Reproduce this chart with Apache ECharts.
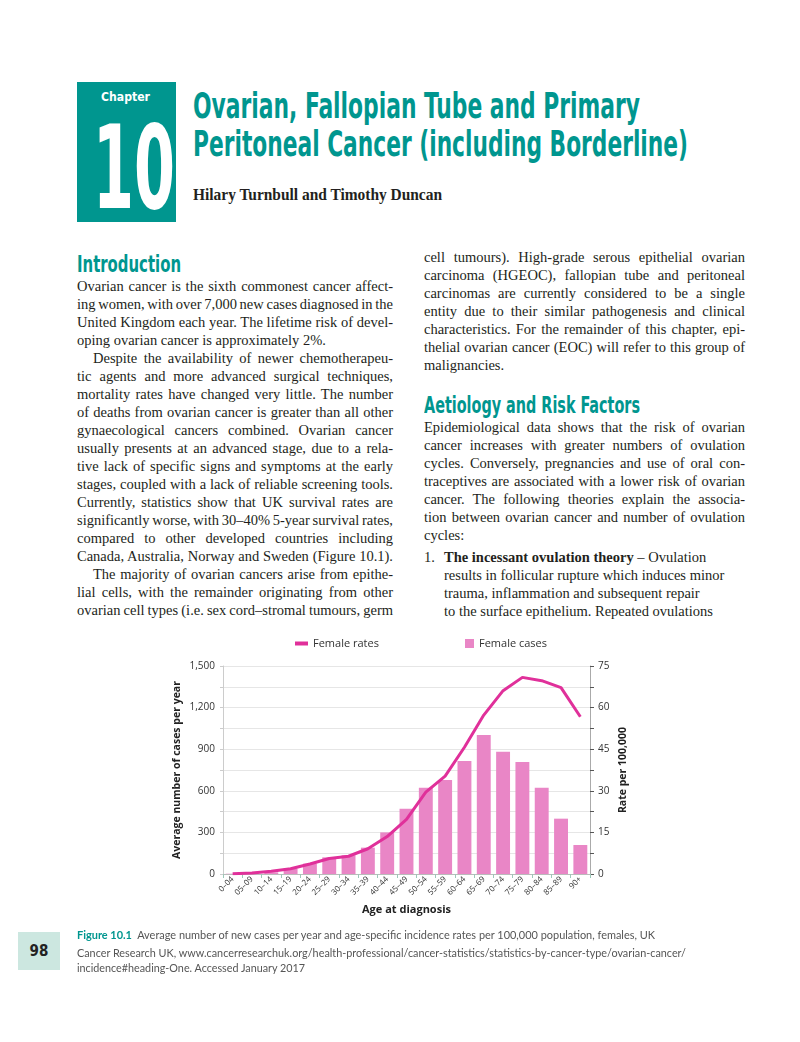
<!DOCTYPE html>
<html><head><meta charset="utf-8">
<script src="https://cdn.jsdelivr.net/npm/echarts@6.0.0/dist/echarts.min.js"></script>
<style>
html,body{margin:0;padding:0;background:#fff;}
body{width:800px;height:1042px;position:relative;overflow:hidden;}
.abs{position:absolute;white-space:nowrap;transform-origin:0 50%;}
.serif{font-family:"Liberation Serif","DejaVu Serif",serif;color:#231f20;font-size:14.5px;line-height:18px;}
.cond{font-family:"Liberation Sans Narrow","DejaVu Sans Condensed",sans-serif;font-weight:bold;}
.cap{font-family:Lato,"Open Sans",sans-serif;color:#555;font-size:11px;line-height:14px;}
</style></head><body>
<div style="position:absolute;left:77px;top:82px;width:99px;height:140px;background:#00968f"></div>
<div class="abs cond" data-w="49" style="left:101px;top:89px;font-size:12px;line-height:16px;color:#fff;">Chapter</div>
<div class="abs cond" data-w="82" style="left:93px;top:111px;font-size:115px;line-height:115px;color:#fff;">10</div>
<div class="abs cond" data-w="447" style="left:193px;top:86px;font-size:35px;line-height:40px;color:#00968f;">Ovarian, Fallopian Tube and Primary</div>
<div class="abs cond" data-w="495" style="left:193px;top:124px;font-size:35px;line-height:40px;color:#00968f;">Peritoneal Cancer (including Borderline)</div>
<div class="abs serif" data-w="249" style="left:193px;top:185px;font-size:16px;line-height:20px;font-weight:bold;">Hilary Turnbull and Timothy Duncan</div>
<div class="abs cond" data-w="104" style="left:77px;top:250px;font-size:23px;line-height:28px;color:#00968f;">Introduction</div>
<div class="abs cond" data-w="216" style="left:424px;top:391px;font-size:23px;line-height:28px;color:#00968f;">Aetiology and Risk Factors</div>
<div id="txt"></div>
<div id="chart" style="position:absolute;left:0;top:625px;width:800px;height:305px;"></div>
<div style="position:absolute;left:18px;top:932px;width:42px;height:38px;background:#cce7e0;"></div>
<div class="abs" style="left:18px;top:932px;width:42px;line-height:38px;text-align:center;font-family:'Liberation Sans Narrow','DejaVu Sans Condensed',sans-serif;font-weight:bold;font-size:15px;color:#222;">98</div>
<div class="abs cap" data-w="578" style="left:77px;top:928px;"><span style="color:#00968f;font-weight:bold;">Figure 10.1</span>&nbsp; Average number of new cases per year and age-specific incidence rates per 100,000 population, females, UK</div>
<div class="abs cap" data-w="609" style="left:77px;top:946px;">Cancer Research UK, www.cancerresearchuk.org/health-professional/cancer-statistics/statistics-by-cancer-type/ovarian-cancer/</div>
<div class="abs cap" data-w="228" style="left:77px;top:961px;">incidence#heading-One. Accessed January 2017</div>
<script>
// ---- chart data ----
var categories = ['0–04','05–09','10–14','15–19','20–24','25–29','30–34','35–39','40–44','45–49','50–54','55–59','60–64','65–69','70–74','75–79','80–84','85–89','90+'];
var femaleCases = [2,4,12,38,75,120,135,190,300,470,622,678,815,1002,882,808,622,399,209];
var femaleRates = [0.1,0.4,1.0,1.9,3.6,5.6,6.4,9.1,13.5,19.7,29.5,35.3,45.7,57.3,66.1,70.9,69.7,67.2,56.7];
var leftTicks = [0,300,600,900,1200,1500];
var rightTicks = [0,15,30,45,60,75];

// ---- page text lines: [html, x, centerY, targetWidth (0 = natural)] ----
var lines = [
['Ovarian cancer is the sixth commonest cancer affect-',77,286,316],
['ing women, with over 7,000 new cases diagnosed in the',77,304,316],
['United Kingdom each year. The lifetime risk of devel-',77,322,316],
['oping ovarian cancer is approximately 2%.',77,340,0],
['Despite the availability of newer chemotherapeu-',93,358,300],
['tic agents and more advanced surgical techniques,',77,376,316],
['mortality rates have changed very little. The number',77,394,316],
['of deaths from ovarian cancer is greater than all other',77,412,316],
['gynaecological cancers combined. Ovarian cancer',77,430,316],
['usually presents at an advanced stage, due to a rela-',77,448,316],
['tive lack of specific signs and symptoms at the early',77,466,316],
['stages, coupled with a lack of reliable screening tools.',77,484,316],
['Currently, statistics show that UK survival rates are',77,502,316],
['significantly worse, with 30–40% 5-year survival rates,',77,520,316],
['compared to other developed countries including',77,538,316],
['Canada, Australia, Norway and Sweden (Figure 10.1).',77,556,316],
['The majority of ovarian cancers arise from epithe-',93,574,300],
['lial cells, with the remainder originating from other',77,592,316],
['ovarian cell types (i.e. sex cord–stromal tumours, germ',77,610,316],
['cell tumours). High-grade serous epithelial ovarian',424,257,321],
['carcinoma (HGEOC), fallopian tube and peritoneal',424,275,321],
['carcinomas are currently considered to be a single',424,293,321],
['entity due to their similar pathogenesis and clinical',424,311,321],
['characteristics. For the remainder of this chapter, epi-',424,329,321],
['thelial ovarian cancer (EOC) will refer to this group of',424,347,321],
['malignancies.',424,365,0],
['Epidemiological data shows that the risk of ovarian',424,427,321],
['cancer increases with greater numbers of ovulation',424,445,321],
['cycles. Conversely, pregnancies and use of oral con-',424,463,321],
['traceptives are associated with a lower risk of ovarian',424,481,321],
['cancer. The following theories explain the associa-',424,499,321],
['tion between ovarian cancer and number of ovulation',424,517,321],
['cycles:',424,535,0],
['1.',424,557,0],
['<b>The incessant ovulation theory</b> – Ovulation',444,557,0],
['results in follicular rupture which induces minor',444,575,0],
['trauma, inflammation and subsequent repair',444,593,0],
['to the surface epithelium. Repeated ovulations',444,611,0]
];
var txt = document.getElementById('txt');
lines.forEach(function(l){
  var d = document.createElement('div');
  d.className = 'abs serif';
  d.innerHTML = l[0];
  d.style.left = l[1]+'px';
  d.style.top = (l[2]-9)+'px';
  txt.appendChild(d);
  if (l[3]) {
    var w = d.getBoundingClientRect().width;
    var n = (d.textContent.match(/ /g)||[]).length;
    if (n>0) d.style.wordSpacing = ((l[3]-w)/n)+'px';
  }
});
document.querySelectorAll('[data-w]').forEach(function(el){
  var w = el.getBoundingClientRect().width;
  var t = parseFloat(el.getAttribute('data-w'));
  el.style.transform = 'scaleX('+(t/w)+')';
});

// ---- chart ----
var chart = echarts.init(document.getElementById('chart'), null, {renderer:'canvas'});
var font = '"Open Sans", Lato, sans-serif';
chart.setOption({
  animation:false,
  textStyle:{fontFamily:font},
  legend:[
    {data:['Female rates'],left:290,top:8,icon:'rect',itemWidth:13,itemHeight:4,textStyle:{fontSize:11,color:'#333',fontFamily:font}},
    {data:['Female cases'],left:460,top:8,icon:'rect',itemWidth:9,itemHeight:9,textStyle:{fontSize:11,color:'#333',fontFamily:font}}
  ],
  grid:{left:223,right:210,top:41,bottom:56},
  xAxis:{
    type:'category',data:categories,
    name:'Age at diagnosis',nameLocation:'middle',nameGap:30,
    nameTextStyle:{fontWeight:'bold',fontSize:11,color:'#222',fontFamily:font},
    axisLine:{lineStyle:{color:'#bbb'}},
    axisTick:{show:true,length:4,lineStyle:{color:'#9cc8b8'}},
    axisLabel:{rotate:45,fontSize:8,color:'#333',margin:4,interval:0,fontFamily:font}
  },
  yAxis:[
    {type:'value',min:0,max:1500,interval:150,position:'left',
     name:'Average number of cases per year',nameLocation:'middle',nameGap:40,nameRotate:90,
     nameTextStyle:{fontWeight:'bold',fontSize:10.5,color:'#222',fontFamily:font},
     axisLine:{show:true,lineStyle:{color:'#ccc'}},
     axisTick:{show:true,length:3,lineStyle:{color:'#ccc'}},
     axisLabel:{fontSize:10,color:'#333',margin:8,fontFamily:font,
       formatter:function(v){return leftTicks.indexOf(v)>=0? v.toLocaleString('en-US'):'';}},
     splitLine:{lineStyle:{color:'#e6e6e6'}}},
    {type:'value',min:0,max:75,interval:7.5,position:'right',
     name:'Rate per 100,000',nameLocation:'middle',nameGap:28,nameRotate:90,
     nameTextStyle:{fontWeight:'bold',fontSize:10.5,color:'#222',fontFamily:font},
     axisLine:{show:true,lineStyle:{color:'#aaa'}},
     axisTick:{show:true,length:4,lineStyle:{color:'#555'}},
     axisLabel:{fontSize:10,color:'#333',margin:8,fontFamily:font,
       formatter:function(v){return rightTicks.indexOf(Math.round(v*10)/10)>=0? String(v):'';}},
     splitLine:{show:false}}
  ],
  series:[
    {name:'Female cases',type:'bar',data:femaleCases,yAxisIndex:0,barCategoryGap:'28%',itemStyle:{color:'#e986c6'}},
    {name:'Female rates',type:'line',data:femaleRates,yAxisIndex:1,symbol:'none',smooth:false,z:5,
     lineStyle:{width:3,color:'#e0309a'},itemStyle:{color:'#e0309a'}}
  ]
});
</script>
</body></html>
